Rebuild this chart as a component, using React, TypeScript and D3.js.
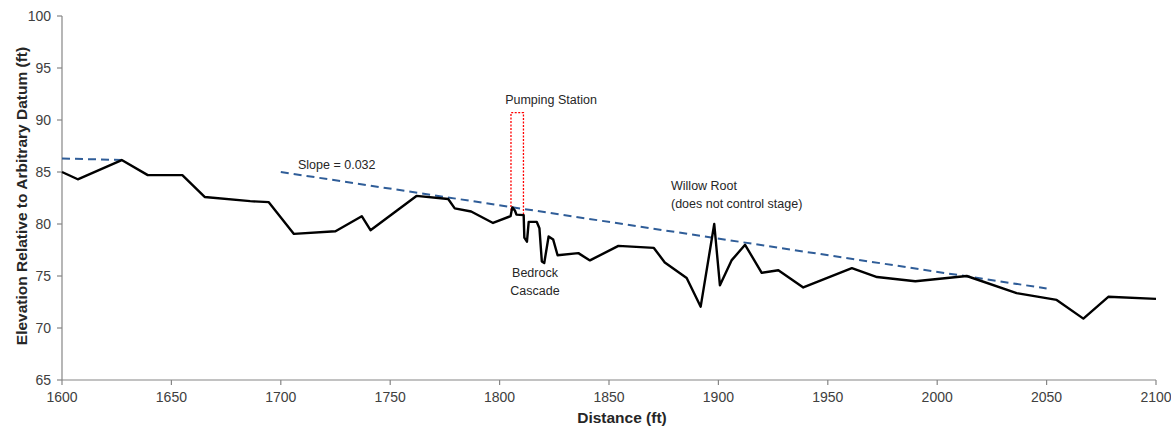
import React from "react";
import * as d3 from "d3";

// Surveyed channel profile: distance (ft) and bed elevation (ft)
const distance = [
  1600, 1607.2, 1627.3, 1639.2, 1655, 1665.2, 1686, 1694.5, 1706, 1725,
  1737, 1741, 1762, 1776.5, 1779.5, 1787, 1797, 1805, 1805.8, 1807,
  1807.7, 1811, 1811.3, 1812.5, 1813.3, 1817, 1818.2, 1819.3, 1820.4, 1822.4,
  1824.5, 1826.5, 1836, 1841.3, 1854.3, 1870.5, 1875.5, 1885.5, 1891.9, 1898.1,
  1900.7, 1906, 1912.2, 1919.8, 1927.4, 1938.8, 1961, 1972.5, 1990, 2013.5,
  2036.3, 2054.6, 2066.8, 2078.2, 2100,
];
const elevation = [
  85.0, 84.3, 86.15, 84.7, 84.7, 82.6, 82.2, 82.1, 79.05, 79.3,
  80.75, 79.4, 82.7, 82.4, 81.5, 81.2, 80.1, 80.75, 81.6, 81.3,
  80.9, 80.85, 78.7, 78.3, 80.2, 80.2, 79.6, 76.4, 76.25, 78.8,
  78.5, 77.0, 77.2, 76.5, 77.9, 77.7, 76.3, 74.8, 72.05, 80.0,
  74.1, 76.5, 78.0, 75.3, 75.55, 73.9, 75.75, 74.9, 74.5, 75.0,
  73.35, 72.7, 70.9, 73.0, 72.8,
];

// Upstream grade line and fitted slope line (ft)
const upstreamGradeX = [1600, 1627.3];
const upstreamGradeY = [86.3, 86.15];
const slopeLineX = [1700, 2050];
const slopeLineY = [85.0, 73.8];
const slopeLabel = "Slope = 0.032";

// Pumping station outline (distance, elevation)
const pumpX = [1805.2, 1805.2, 1810.9, 1810.9];
const pumpY = [81.3, 90.7, 90.7, 80.9];

const xTicks = [1600, 1650, 1700, 1750, 1800, 1850, 1900, 1950, 2000, 2050, 2100];
const yTicks = [65, 70, 75, 80, 85, 90, 95, 100];

const W = 1171;
const H = 429;
const margin = { left: 62, right: 15, top: 16, bottom: 49 };

export default function App() {
  const x = d3.scaleLinear().domain([1600, 2100]).range([margin.left, W - margin.right]);
  const y = d3.scaleLinear().domain([65, 100]).range([H - margin.bottom, margin.top]);

  const line = d3
    .line<[number, number]>()
    .x((d) => x(d[0]))
    .y((d) => y(d[1]));

  const zip = (a: number[], b: number[]) => a.map((v, i) => [v, b[i]] as [number, number]);

  const profile = zip(distance, elevation);
  const grade1 = zip(upstreamGradeX, upstreamGradeY);
  const grade2 = zip(slopeLineX, slopeLineY);
  const pump = zip(pumpX, pumpY);

  const axisColor = "#868686";
  const tickText = "#404040";
  const annFont = "'Liberation Sans', Arial, sans-serif";
  const x0 = x(1600);
  const yBottom = y(65);

  return (
    <svg
      width={W}
      height={H}
      style={{ position: "absolute", left: 0, top: 0, background: "#fff" }}
      fontFamily="'Liberation Sans', Arial, sans-serif"
    >
      {/* axes */}
      <line x1={x0} x2={x0} y1={y(100)} y2={yBottom} stroke={axisColor} strokeWidth={1.2} />
      <line x1={x0} x2={x(2100)} y1={yBottom} y2={yBottom} stroke={axisColor} strokeWidth={1.2} />
      {yTicks.map((t) => (
        <g key={"y" + t}>
          <line x1={x0 - 5} x2={x0} y1={y(t)} y2={y(t)} stroke={axisColor} strokeWidth={1.2} />
          <text x={x0 - 11} y={y(t)} dy="0.35em" textAnchor="end" fontSize={14} fill={tickText}>
            {t}
          </text>
        </g>
      ))}
      {xTicks.map((t) => (
        <g key={"x" + t}>
          <line x1={x(t)} x2={x(t)} y1={yBottom} y2={yBottom + 5} stroke={axisColor} strokeWidth={1.2} />
          <text x={x(t)} y={yBottom + 22} textAnchor="middle" fontSize={14} fill={tickText}>
            {t}
          </text>
        </g>
      ))}
      <text x={622} y={423} textAnchor="middle" fontSize={15.5} fontWeight="bold" fill="#262626">
        Distance (ft)
      </text>
      <text
        transform={`translate(27,196) rotate(-90)`}
        textAnchor="middle"
        fontSize={15.5}
        fontWeight="bold"
        fill="#262626"
      >
        Elevation Relative to Arbitrary Datum (ft)
      </text>

      {/* grade lines */}
      <path d={line(grade1) ?? ""} fill="none" stroke="#2F5D98" strokeWidth={2} strokeDasharray="8,5" />
      <path d={line(grade2) ?? ""} fill="none" stroke="#2F5D98" strokeWidth={2} strokeDasharray="8,5" />

      {/* pumping station */}
      <path d={line(pump) ?? ""} fill="none" stroke="#FF0000" strokeWidth={1.3} strokeDasharray="2,1.5" />

      {/* bed profile */}
      <path d={line(profile) ?? ""} fill="none" stroke="#000" strokeWidth={2.4} strokeLinejoin="round" />

      {/* annotations */}
      <g fontFamily={annFont} fontSize={12.5} fill="#262626">
        <text x={298} y={169}>{slopeLabel}</text>
        <text x={551} y={104} textAnchor="middle">Pumping Station</text>
        <text x={535} y={277} textAnchor="middle">Bedrock</text>
        <text x={535} y={295} textAnchor="middle">Cascade</text>
        <text x={671} y={190}>Willow Root</text>
        <text x={671} y={208}>(does not control stage)</text>
      </g>
    </svg>
  );
}
